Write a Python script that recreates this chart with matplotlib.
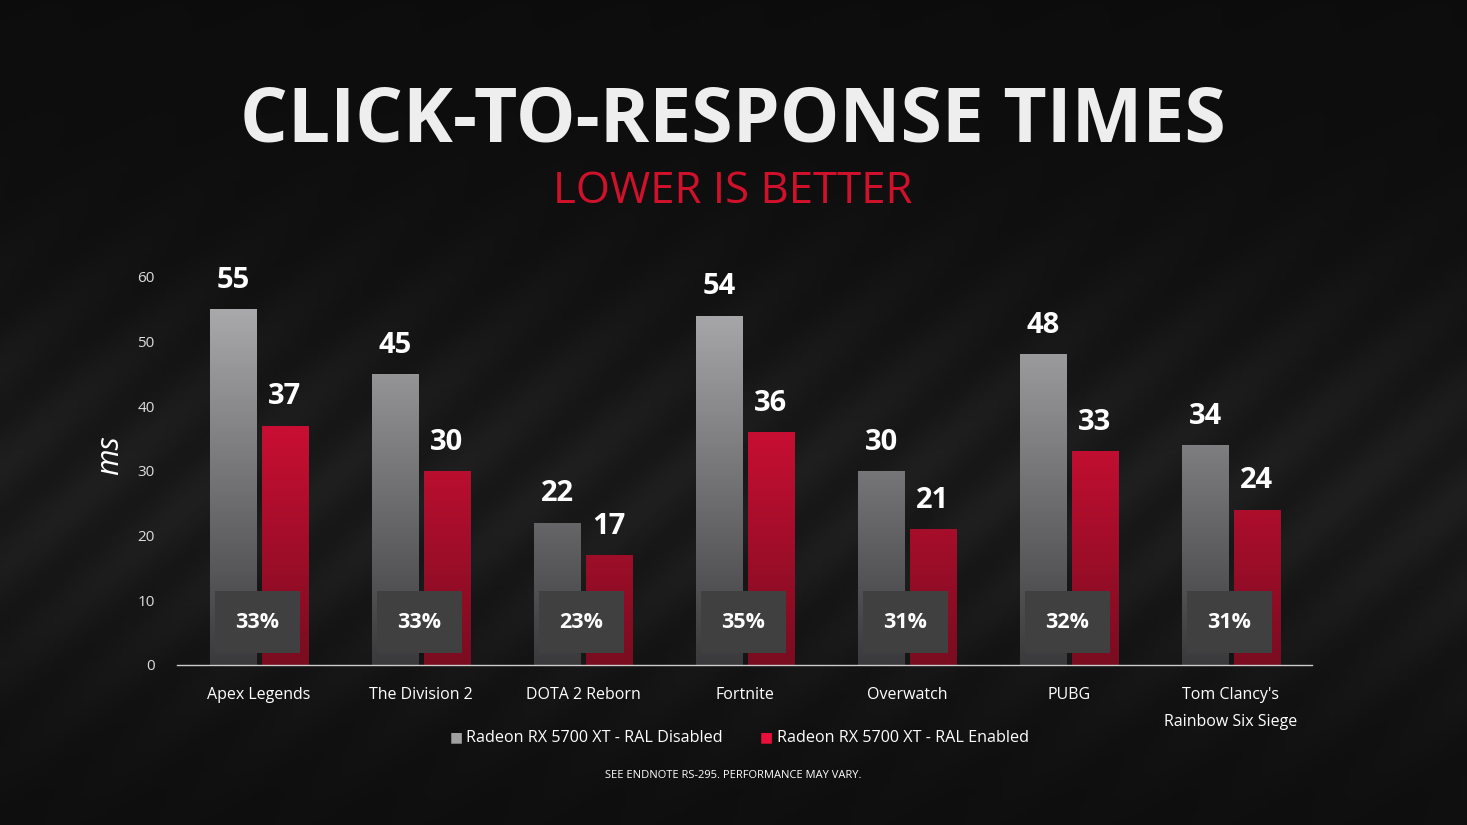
import matplotlib
matplotlib.use("Agg")
import matplotlib.pyplot as plt
import numpy as np

categories = ["Apex Legends", "The Division 2", "DOTA 2 Reborn", "Fortnite",
              "Overwatch", "PUBG", "Tom Clancy's\nRainbow Six Siege"]
ral_disabled = [55, 45, 22, 54, 30, 48, 34]
ral_enabled = [37, 30, 17, 36, 21, 33, 24]
improvement = ["33%", "33%", "23%", "35%", "31%", "32%", "31%"]
yticks = [0, 10, 20, 30, 40, 50, 60]
series_names = ["Radeon RX 5700 XT - RAL Disabled", "Radeon RX 5700 XT - RAL Enabled"]

plt.rcParams['font.family'] = ['Open Sans', 'DejaVu Sans']
fig = plt.figure(figsize=(14.67, 8.25), dpi=100)
fig.patch.set_facecolor('#0b0b0b')

bg = fig.add_axes([0, 0, 1, 1], zorder=-10)
yy, xx = np.mgrid[0:1:200j, 0:1:300j]
bgimg = 0.05 + 0.07 * np.exp(-((yy - 0.6) ** 2) / 0.08) * (0.6 + 0.4 * np.sin(xx * 40 + yy * 25) ** 2)
bg.imshow(bgimg, cmap='gray', vmin=0, vmax=1, aspect='auto', extent=[0, 1, 0, 1])
bg.axis('off')

ax = fig.add_axes([177/1467, (825-665)/825, (1312-177)/1467, (665-212)/825])
ax.set_facecolor('none')

x = np.arange(len(categories))
w = 0.284
off = 0.16
gray_grad = np.linspace(0, 1, 256).reshape(-1, 1)

def grad_bar(bars, top_col, bot_col):
    from matplotlib.colors import LinearSegmentedColormap
    cmap = LinearSegmentedColormap.from_list('g', [bot_col, top_col])
    for b in bars:
        x0 = b.get_x()
        im = ax.imshow(gray_grad, cmap=cmap, aspect='auto', origin='lower',
                       extent=[x0, x0 + b.get_width(), 0, max(ral_disabled)], zorder=2)
        im.set_clip_path(b)
        b.set_facecolor('none')

b1 = ax.bar(x - off, ral_disabled, w, color='#9a9a9c', zorder=2)
b2 = ax.bar(x + off, ral_enabled, w, color='#e8103a', zorder=2)
grad_bar(b1, '#a9a9ab', '#3a3a3c')
grad_bar(b2, '#f0103c', '#7a0c20')
ax.set_xlim(-0.506, 6.5)
ax.set_ylim(0, 70)

for i in range(len(x)):
    ax.text(x[i] - off, ral_disabled[i] + 2.2, str(ral_disabled[i]), ha='center', va='bottom',
            color='white', fontsize=21, fontweight='bold', zorder=5)
    ax.text(x[i] + off, ral_enabled[i] + 2.2, str(ral_enabled[i]), ha='center', va='bottom',
            color='white', fontsize=21, fontweight='bold', zorder=5)
    ax.text(x[i] - 0.01, 6.6, improvement[i], ha='center', va='center', color='white',
            fontsize=15.5, fontweight='bold', zorder=6,
            bbox=dict(boxstyle='square,pad=0.95', fc='#404040', ec='none'))

ax.set_yticks(yticks)
ax.set_yticklabels([str(t) for t in yticks], color='#dddddd', fontsize=11)
ax.tick_params(axis='y', length=0, pad=16)
ax.set_xticks(x)
ax.set_xticklabels(categories, color='white', fontsize=11.5, linespacing=1.9)
ax.tick_params(axis='x', length=0, pad=16)
for s in ['top', 'right', 'left']:
    ax.spines[s].set_visible(False)
ax.spines['bottom'].set_color('#cccccc')
ax.spines['bottom'].set_linewidth(1)

fig.text(110/1467, 1 - 455/825, 'ms', rotation=90, color='white', fontsize=22,
         fontstyle='italic', ha='center', va='center')

fig.text(733/1467, 1 - 122/825, 'CLICK-TO-RESPONSE TIMES', color='#eeeeee', fontsize=54,
         fontweight='bold', ha='center', va='center')
fig.text(733/1467, 1 - 192/825, 'LOWER IS BETTER', color='#d0112b', fontsize=31.5,
         ha='center', va='center')

fig.text(450/1467, 1 - 738/825, '■', color='#a0a0a0', fontsize=10, ha='left', va='center')
fig.text(466/1467, 1 - 738/825, series_names[0], color='white', fontsize=11.6, ha='left', va='center')
fig.text(760/1467, 1 - 738/825, '■', color='#e8103a', fontsize=10, ha='left', va='center')
fig.text(777/1467, 1 - 738/825, series_names[1], color='white', fontsize=11.6, ha='left', va='center')

fig.text(733/1467, 1 - 775/825, 'SEE ENDNOTE RS-295. PERFORMANCE MAY VARY.', color='white',
         fontsize=8, ha='center', va='center')

fig.savefig('out.png', dpi=100, facecolor=fig.get_facecolor())
